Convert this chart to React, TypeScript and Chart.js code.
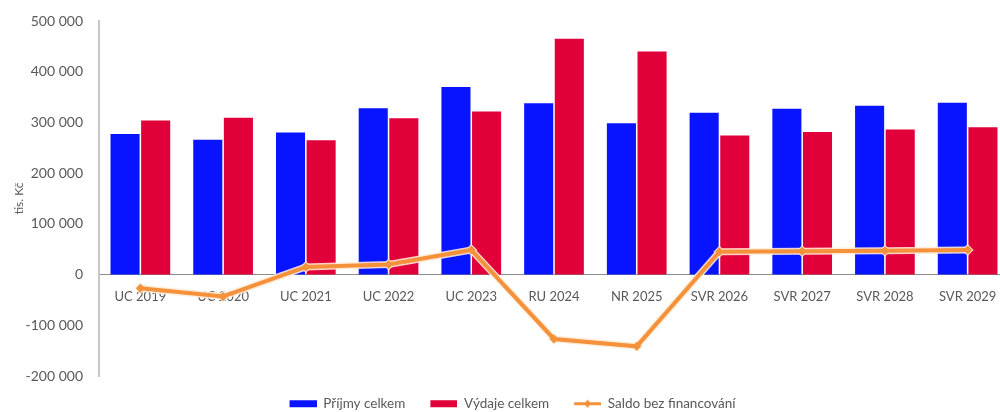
import React, { useEffect, useRef } from "react";
import { Chart, registerables } from "chart.js";

Chart.register(...registerables);

const categories = ["UC 2019", "UC 2020", "UC 2021", "UC 2022", "UC 2023", "RU 2024", "NR 2025", "SVR 2026", "SVR 2027", "SVR 2028", "SVR 2029"];
const prijmy = [277000, 266000, 280000, 328000, 370000, 338000, 298500, 319000, 327000, 333000, 339000];
const vydaje = [304000, 309000, 265000, 308000, 321500, 465000, 440000, 274000, 281000, 286000, 290500];
const saldo = [-27000, -43000, 15000, 20000, 48500, -127000, -141500, 45000, 46000, 47000, 48500];
const seriesNames = ["Příjmy celkem", "Výdaje celkem", "Saldo bez financování"];
const yTitle = "tis. Kč";

const BLUE = "#0814FF";
const RED = "#E2003A";
const ORANGE = "#F5913A";
const TEXT = "#595959";
const FONT = "Lato, 'Noto Sans', sans-serif";
const ICON_GAP = 4;

function fmt(v: number): string {
  const s = Math.abs(v).toString().replace(/\B(?=(\d{3})+(?!\d))/g, " ");
  return (v < 0 ? "-" : "") + s;
}

function makeIcon(kind: "box" | "line", color: string, gap: number): HTMLCanvasElement {
  const c = document.createElement("canvas");
  c.width = 27 + gap;
  c.height = 9;
  const ctx = c.getContext("2d")!;
  const x0 = gap;
  if (kind === "box") {
    ctx.fillStyle = color;
    ctx.fillRect(x0, 1, 27, 7);
  } else {
    ctx.strokeStyle = color;
    ctx.lineWidth = 3;
    ctx.beginPath();
    ctx.moveTo(x0, 4.5);
    ctx.lineTo(x0 + 27, 4.5);
    ctx.stroke();
    ctx.fillStyle = color;
    ctx.beginPath();
    ctx.moveTo(x0 + 13.5, 0.5);
    ctx.lineTo(x0 + 17.5, 4.5);
    ctx.lineTo(x0 + 13.5, 8.5);
    ctx.lineTo(x0 + 9.5, 4.5);
    ctx.closePath();
    ctx.fill();
  }
  return c;
}

export default function App() {
  const ref = useRef<HTMLCanvasElement | null>(null);
  useEffect(() => {
    if (!ref.current) return;
    const icons = [makeIcon("box", BLUE, ICON_GAP), makeIcon("box", RED, ICON_GAP), makeIcon("line", ORANGE, ICON_GAP)];
    const chart = new Chart(ref.current, {
      type: "bar",
      data: {
        labels: categories,
        datasets: [
          {
            type: "line",
            label: seriesNames[2],
            data: saldo,
            borderColor: ORANGE,
            backgroundColor: ORANGE,
            borderWidth: 4,
            pointStyle: "rectRot",
            pointRadius: 4.5,
            pointBackgroundColor: ORANGE,
            pointBorderWidth: 0,
            order: 0,
          } as any,
          {
            type: "line",
            label: "halo",
            data: saldo,
            borderColor: "rgba(255,235,215,0.9)",
            borderWidth: 7,
            pointStyle: "rectRot",
            pointRadius: 6,
            pointBackgroundColor: "rgba(255,235,215,0.9)",
            pointBorderWidth: 0,
            order: 1,
          } as any,
          {
            label: seriesNames[0],
            data: prijmy,
            backgroundColor: BLUE,
            order: 2,
          },
          {
            label: seriesNames[1],
            data: vydaje,
            backgroundColor: RED,
            order: 3,
          },
        ],
      },
      options: {
        responsive: false,
        animation: false,
        layout: { padding: { left: 12, right: 15, top: 21, bottom: -8.5 } },
        datasets: {
          bar: { categoryPercentage: 0.74, barPercentage: 0.95 },
        },
        plugins: {
          tooltip: { enabled: false },
          legend: {
            position: "bottom",
            labels: {
              usePointStyle: true,
              pointStyleWidth: 27 + ICON_GAP,
              boxHeight: 9,
              padding: 21,
              color: TEXT,
              font: { family: FONT, size: 13.5 },
              generateLabels: () =>
                [2, 3, 0].map((di, i) => ({
                  text: seriesNames[i],
                  datasetIndex: di,
                  pointStyle: icons[i] as any,
                  fillStyle: "transparent",
                  strokeStyle: "transparent",
                  lineWidth: 0,
                  hidden: false,
                  fontColor: TEXT,
                })),
            },
          },
        },
        scales: {
          x: {
            position: { y: 0 } as any,
            grid: { display: false, drawTicks: false },
            border: { display: true, color: "#8C8C8C", width: 1 },
            ticks: { color: TEXT, font: { family: FONT, size: 13 }, padding: 14, maxRotation: 0, autoSkip: false },
          },
          y: {
            min: -200000,
            max: 500000,
            afterFit: (scale: any) => {
              scale.width = 87;
              scale.paddingTop = 0;
              scale.paddingBottom = 0;
            },
            grid: { display: false, drawTicks: false },
            border: { display: true, color: "#C8C8C8", width: 2 },
            ticks: {
              stepSize: 100000,
              color: TEXT,
              font: { family: FONT, size: 14 },
              padding: 16,
              callback: (v: any) => fmt(Number(v)),
            },
            title: {
              display: true,
              text: yTitle,
              color: TEXT,
              font: { family: FONT, size: 12 },
              padding: { top: 0, bottom: 5 },
            },
          },
        },
      },
    });
    return () => chart.destroy();
  }, []);
  return (
    <div style={{ position: "fixed", left: 0, top: 0, width: 1000, height: 412, overflow: "hidden", background: "#fff" }}>
      <canvas ref={ref} width={1024} height={412} style={{ display: "block", width: 1024, height: 412 }} />
    </div>
  );
}
